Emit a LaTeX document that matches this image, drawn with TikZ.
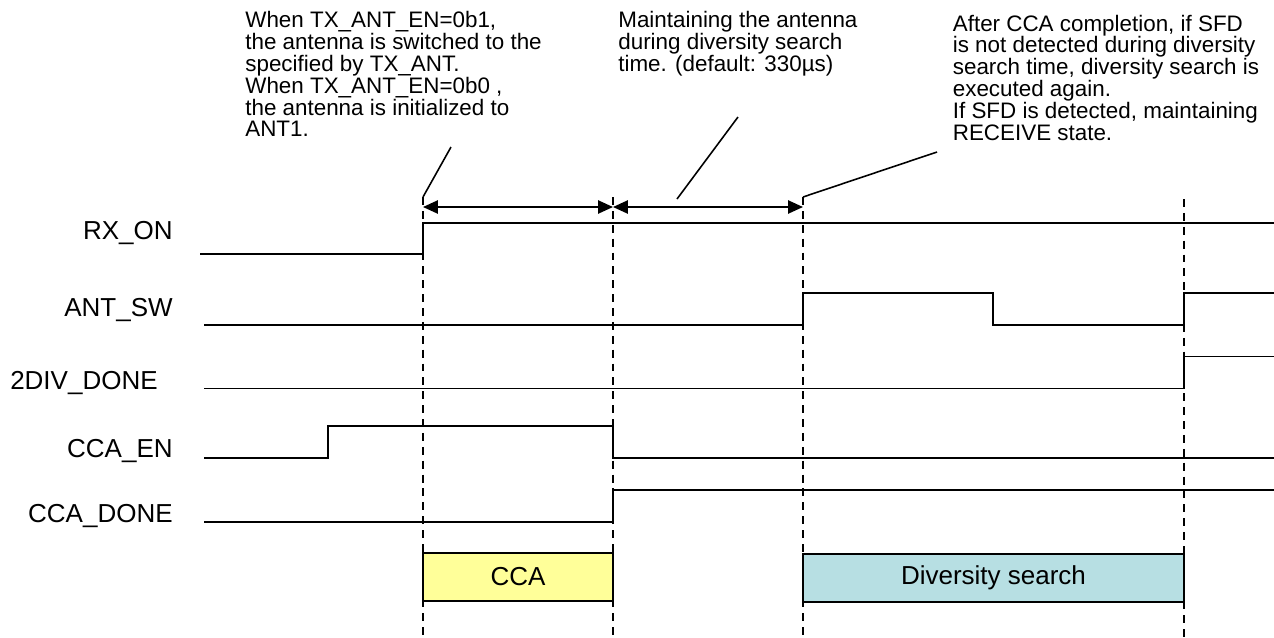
\documentclass[tikz,border=0pt]{standalone}
\usepackage{fontspec}
\setmainfont{Liberation Sans}
\usepackage{xcolor}
\definecolor{ccafill}{HTML}{FFFF99}
\definecolor{divfill}{HTML}{B7DFE3}
\usetikzlibrary{arrows.meta}

\tikzset{
  sig/.style={line width=1.1pt, line join=miter},
  tmark/.style={line width=1.1pt, dash pattern=on 4.5pt off 3.4pt},
  lead/.style={line width=0.9pt},
  span/.style={line width=1.1pt, {Triangle[length=8.5pt,width=7.5pt]}-{Triangle[length=8.5pt,width=7.5pt]}},
  lbl/.style={font=\fontsize{14.8}{17}\selectfont, anchor=base east, inner sep=0pt},
  note/.style={font=\fontsize{12.75}{12.45}\selectfont, align=left, anchor=north west, inner sep=0pt},
  phasebox/.style={draw, line width=1.1pt, minimum width=#1, minimum height=0.96cm, inner sep=0pt,
    font=\fontsize{14.8}{17}\selectfont}
}

\begin{document}
\begin{tikzpicture}[x=0.02cm, y=-0.02cm]
  \useasboundingbox (0,0) rectangle (1274,637);

  % zaman isaretleri
  \coordinate (tA) at (423,207);
  \coordinate (tB) at (613,207);
  \coordinate (tC) at (803,207);
  \foreach \t in {423,613,803}
    \draw[tmark] (\t,197) -- (\t,637);
  \draw[tmark] (1184,199) -- (1184,637);

  % sinyal adlari
  \node[lbl] (rxon)    at (173,239.3) {RX\_ON};
  \node[lbl] (antsw)   at (173,316.7) {ANT\_SW};
  \node[lbl] (divdone) at (158,389)   {2DIV\_DONE};
  \node[lbl] (ccaen)   at (173,457.7) {CCA\_EN};
  \node[lbl] (ccadone) at (173,522.7) {CCA\_DONE};

  % dalga bicimleri
  \draw[sig] (200,254) -- (423,254) -- (423,223) -- (1274,223);
  \draw[sig] (204,325) -- (803,325) -- (803,293) -- (993,293) -- (993,325)
    -- (1184,325) -- (1184,293) -- (1274,293);
  \draw[sig] (204,388.5) -- (1184,388.5) -- (1184,356.5) -- (1274,356.5);
  \draw[sig] (204,458) -- (328,458) -- (328,426) -- (613,426) -- (613,458) -- (1274,458);
  \draw[sig] (204,521.7) -- (613,521.7) -- (613,490) -- (1274,490);

  % sure oklari
  \draw[span] (tA) -- (tB);
  \draw[span] (tB) -- (tC);

  % aciklamalar
  \node[note] (noteant) at (245,11) {When TX\_ANT\_EN=0b1,\\the antenna is switched to the\\specified by TX\_ANT.\\When TX\_ANT\_EN=0b0 ,\\the antenna is initialized to\\ANT1.};
  \node[note] (notekeep) at (618,11) {Maintaining the antenna\\during diversity search\\time. (default: 330µs)};
  \node[note] (noteagain) at (952.5,14.5) {After CCA completion, if SFD\\is not detected during diversity\\search time, diversity search is\\executed again.\\If SFD is detected, maintaining\\RECEIVE state.};
  \coordinate (endant)   at (451,147);
  \coordinate (endkeep)  at (738,117);
  \coordinate (endagain) at (937,152);
  \draw[lead] (423,197) -- (endant);
  \draw[lead] (677,199) -- (endkeep);
  \draw[lead] (803,197) -- (endagain);

  % fazlar
  \node[phasebox=3.8cm, fill=ccafill] (cca) at (518,577) {CCA};
  \node[phasebox=7.62cm, fill=divfill] (divsearch) at (993.5,578) {Diversity search};
\end{tikzpicture}
\end{document}
